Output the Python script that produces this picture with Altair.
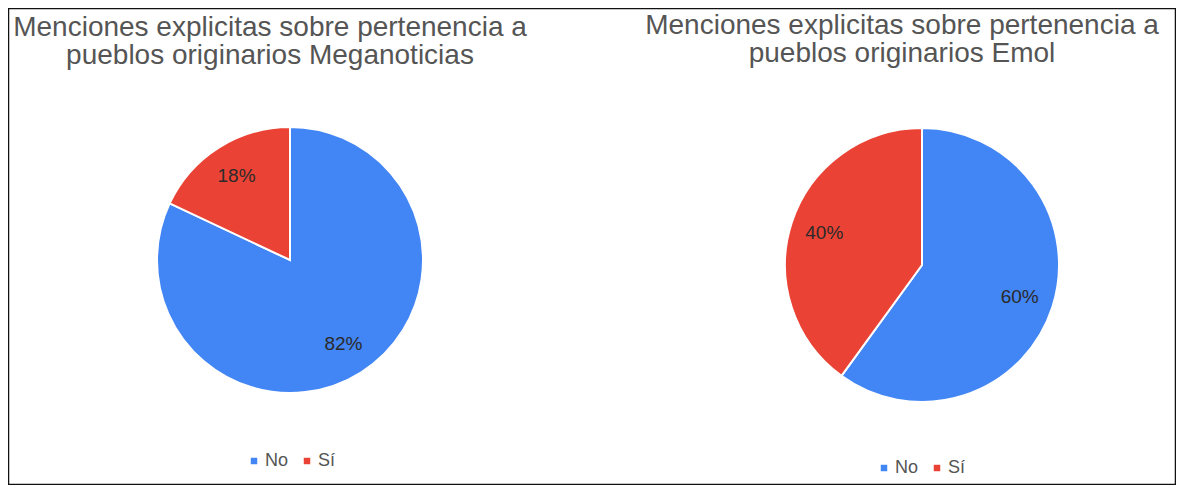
import altair as alt
import pandas as pd

medios = ["Meganoticias", "Emol"]
categorias = ["No", "Sí"]
valores_meganoticias = [82, 18]
valores_emol = [60, 40]
titulo_linea1 = "Menciones explicitas sobre pertenencia a"
titulo_linea2 = ["pueblos originarios Meganoticias", "pueblos originarios Emol"]

colores = ["#4285F4", "#EA4335"]

rows = []
for medio, vals in zip(medios, [valores_meganoticias, valores_emol]):
    for i, (c, v) in enumerate(zip(categorias, vals)):
        rows.append({"medio": medio, "categoria": c, "valor": v, "orden": i,
                     "etiqueta": f"{v}%"})
df = pd.DataFrame(rows)

# layout per panel: center, radius, title positions, legend positions
layout = {
    "Meganoticias": dict(cx=282, cy=252, r=133, tx=262, ty1=28, ty2=56, fs=28, lx=237, ly=444),
    "Emol": dict(cx=914, cy=257, r=137, tx=894, ty1=26, ty2=54, fs=28, lx=867, ly=451),
}

layers = []
for k, medio in enumerate(medios):
    L = layout[medio]
    base = alt.Chart(df).transform_filter(alt.datum.medio == medio)
    arc = base.mark_arc(outerRadius=L["r"], stroke="white", strokeWidth=2).encode(
        theta=alt.Theta("valor:Q", stack=True),
        color=alt.Color(
            "categoria:N",
            scale=alt.Scale(domain=categorias, range=colores),
            legend=alt.Legend(
                title=None, orient="none", legendX=L["lx"], legendY=L["ly"],
                direction="horizontal", symbolType="square", symbolSize=42,
                symbolStrokeWidth=0, labelFontSize=18, labelColor="#555555",
                labelFont="Liberation Sans", labelOffset=2, columnPadding=9,
            ),
        ),
        order=alt.Order("orden:Q"),
        x=alt.value(L["cx"]),
        y=alt.value(L["cy"]),
    )
    text = base.mark_text(radius=L["r"] * 0.75, fontSize=19, font="Liberation Sans",
                          color="#2a2a2a").encode(
        theta=alt.Theta("valor:Q", stack=True),
        detail="categoria:N",
        order=alt.Order("orden:Q"),
        text="etiqueta:N",
        x=alt.value(L["cx"]),
        y=alt.value(L["cy"]),
    )
    t1 = alt.Chart(pd.DataFrame({"t": [titulo_linea1]})).mark_text(
        fontSize=L["fs"], font="Liberation Sans", color="#555555", align="center",
        baseline="alphabetic").encode(text="t:N", x=alt.value(L["tx"]), y=alt.value(L["ty1"]))
    t2 = alt.Chart(pd.DataFrame({"t": [titulo_linea2[k]]})).mark_text(
        fontSize=L["fs"], font="Liberation Sans", color="#555555", align="center",
        baseline="alphabetic").encode(text="t:N", x=alt.value(L["tx"]), y=alt.value(L["ty2"]))
    layers.append(alt.layer(arc, text, t1, t2))

chart = alt.layer(*layers).resolve_scale(color="independent").properties(
    width=1168, height=477, padding=0, autosize="none"
).configure_view(stroke="#111111", strokeWidth=2.5)

chart.save("out.html", embed_options={"renderer": "svg", "actions": False})
